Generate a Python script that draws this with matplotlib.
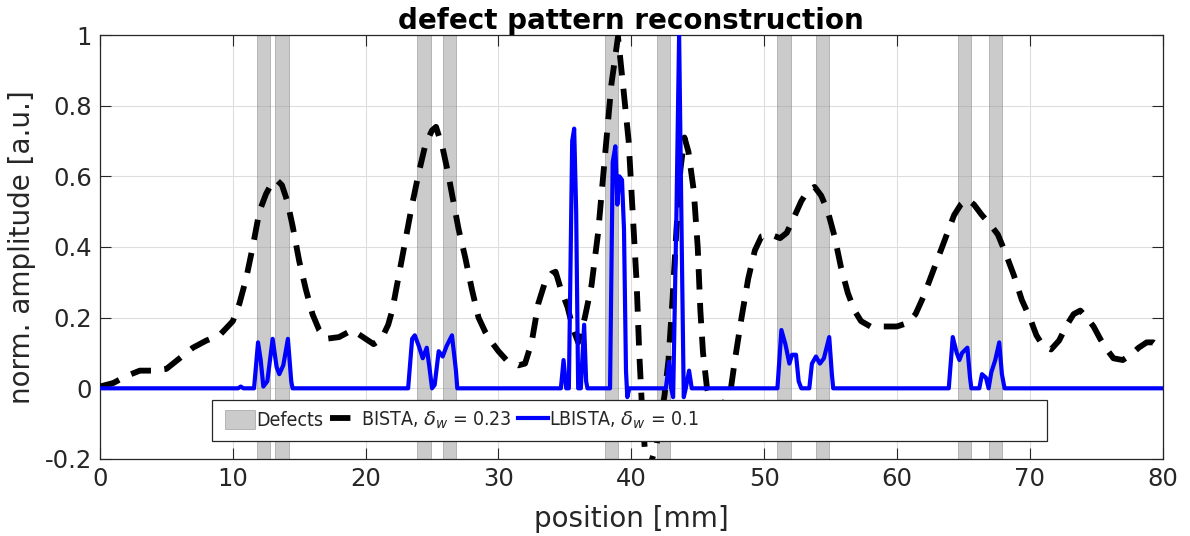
import matplotlib
matplotlib.use("Agg")
import matplotlib.pyplot as plt
from matplotlib.patches import Rectangle, Patch
from matplotlib.lines import Line2D

plt.rcParams['font.family'] = ['DejaVu Sans']
plt.rcParams['axes.unicode_minus'] = False
plt.rcParams['mathtext.fontset'] = 'dejavusans'

# defect positions (start, mm) - all 1 mm wide
defect_start = [11.8, 13.2, 23.9, 25.8, 38.0, 41.9, 51.0, 53.9, 64.6, 66.9]
defect_width = 1.0

# BISTA reconstruction, delta_w = 0.23
bista_x = [0, 1, 2, 3, 4, 5, 6, 7, 8, 9, 10, 10.5, 11, 11.5, 12, 12.5, 13, 13.3, 13.7, 14.1,
           14.5, 15, 15.5, 16, 16.5, 17, 18, 19, 20, 20.6, 21.2, 21.7, 22, 22.5, 23, 23.5, 24,
           24.5, 25, 25.3, 25.8, 26.2, 26.6, 27, 27.5, 28, 28.5, 29, 29.5, 30, 30.6, 31.5, 32,
           32.5, 33, 33.5, 34, 34.3, 34.7, 35.2, 35.6, 36.0, 36.5, 37, 37.5, 38, 38.5, 39, 39.4,
           39.8, 40.1, 40.4, 40.6, 40.8, 41.1, 41.4, 41.9, 42.5, 42.8, 43.1, 43.4, 43.7, 44.0,
           44.3, 44.7, 45.0, 45.2, 45.4, 45.7, 46.0, 46.5, 47.0, 47.5, 47.8, 48.3, 48.8, 49.3,
           49.8, 50.5, 51.2, 51.7, 52.2, 52.8, 53.3, 53.8, 54.3, 54.8, 55.3, 55.8, 56.3, 56.8,
           57.3, 58, 59, 60, 60.8, 61.4, 62, 62.6, 63.2, 63.8, 64.3, 64.8, 65.3, 65.8, 66.4, 67.0,
           67.6, 68.2, 68.8, 69.4, 70.0, 70.5, 71, 71.6, 72.2, 72.8, 73.3, 73.8, 74.3, 74.8, 75.3,
           75.8, 76.3, 77, 77.6, 78.2, 78.8, 79.3, 80]
bista_y = [0.005, 0.015, 0.035, 0.05, 0.05, 0.055, 0.085, 0.115, 0.135, 0.15, 0.19, 0.24, 0.31,
           0.40, 0.50, 0.55, 0.585, 0.59, 0.575, 0.53, 0.46, 0.36, 0.28, 0.21, 0.165, 0.14, 0.145,
           0.165, 0.14, 0.125, 0.14, 0.18, 0.22, 0.32, 0.42, 0.52, 0.61, 0.69, 0.73, 0.74, 0.68,
           0.61, 0.53, 0.45, 0.37, 0.28, 0.20, 0.16, 0.13, 0.105, 0.08, 0.065, 0.07, 0.13, 0.24,
           0.30, 0.325, 0.33, 0.28, 0.23, 0.17, 0.13, 0.20, 0.29, 0.44, 0.65, 0.86, 0.995, 0.85,
           0.70, 0.50, 0.30, 0.10, -0.05, -0.22, -0.22, -0.16, -0.02, 0.08, 0.25, 0.45, 0.62,
           0.71, 0.67, 0.56, 0.40, 0.22, 0.10, 0.0, -0.04, -0.06, -0.04, 0.0, 0.08, 0.20, 0.31,
           0.39, 0.43, 0.435, 0.425, 0.44, 0.48, 0.53, 0.56, 0.57, 0.545, 0.50, 0.43, 0.34, 0.27,
           0.22, 0.19, 0.175, 0.175, 0.175, 0.185, 0.21, 0.26, 0.32, 0.38, 0.44, 0.49, 0.52,
           0.535, 0.52, 0.49, 0.465, 0.435, 0.38, 0.32, 0.25, 0.20, 0.15, 0.12, 0.11, 0.135, 0.18,
           0.21, 0.22, 0.20, 0.175, 0.14, 0.11, 0.085, 0.08, 0.095, 0.115, 0.13, 0.13, 0.11]

# LBISTA reconstruction, delta_w = 0.1
lbista_x = [0, 10.4, 10.6, 10.8, 11.6, 11.9, 12.1, 12.3, 12.6, 13.0, 13.3, 13.5, 13.8, 14.15,
            14.4, 14.5, 23.2, 23.5, 23.7, 24.0, 24.3, 24.6, 24.8, 25.0, 25.2, 25.5, 25.8, 26.1,
            26.5, 26.8, 26.9, 34.7, 34.9, 35.1, 35.3, 35.55, 35.7, 35.85, 36.0, 36.2, 36.45, 36.6,
            36.7, 38.4, 38.6, 38.8, 38.95, 39.1, 39.3, 39.45, 39.6, 39.7, 39.85, 42.6, 42.85, 43.0,
            43.15, 43.4, 43.6, 43.8, 43.95, 44.1, 44.35, 44.55, 51.0, 51.3, 51.6, 51.9, 52.1, 52.4,
            52.6, 52.8, 53.4, 53.6, 53.9, 54.2, 54.5, 54.9, 55.1, 55.2, 63.9, 64.2, 64.5, 64.7,
            64.9, 65.3, 65.5, 65.6, 66.2, 66.4, 66.7, 66.9, 67.1, 67.4, 67.7, 67.9, 68.1, 80]
lbista_y = [0, 0, 0.005, 0, 0, 0.13, 0.08, 0.005, 0.02, 0.14, 0.06, 0.04, 0.065, 0.14,
            0.02, 0, 0, 0.14, 0.15, 0.12, 0.085, 0.115, 0.06, 0.0, 0.01, 0.105, 0.09, 0.12,
            0.15, 0.05, 0, 0, 0.08, 0, 0, 0.70, 0.735, 0.50, 0.0, 0.0, 0.18, 0.02,
            0, 0, 0.64, 0.685, 0.52, 0.60, 0.59, 0.45, 0.05, -0.025, 0, 0, 0.075, 0.0,
            -0.025, 0.50, 1.0, 0.40, -0.025, 0.0, 0.05, 0, 0, 0.165, 0.125, 0.07, 0.095, 0.095,
            0.02, 0, 0, 0.07, 0.09, 0.07, 0.085, 0.145, 0.04, 0, 0, 0.145, 0.10, 0.08,
            0.10, 0.115, 0.03, 0, 0, 0.04, 0.03, 0.0, 0.045, 0.08, 0.13, 0.04, 0, 0]

xticks = [0, 10, 20, 30, 40, 50, 60, 70, 80]
yticks = [-0.2, 0, 0.2, 0.4, 0.6, 0.8, 1]
ytick_labels = ['-0.2', '0', '0.2', '0.4', '0.6', '0.8', '1']

axcol = '#262626'

fig = plt.figure(figsize=(11.9, 5.36), dpi=100)
ax = fig.add_axes([0.084, 0.1437, 0.893, 0.791])

for s in defect_start:
    ax.axvspan(s, s + defect_width, facecolor='0.6', alpha=0.5, edgecolor='0.45',
               linewidth=0.6, zorder=1)

ax.plot(bista_x, bista_y, color='black', linewidth=4.2, dashes=(3.5, 2.3),
        dash_capstyle='butt', zorder=3)
ax.plot(lbista_x, lbista_y, color=(0, 0, 1), linewidth=3.0, zorder=4)

ax.set_xlim(0, 80)
ax.set_ylim(-0.2, 1)
ax.set_xticks(xticks)
ax.set_yticks(yticks)
ax.set_yticklabels(ytick_labels)
ax.grid(True, color='#dedede', linewidth=0.8)
ax.set_axisbelow(True)
ax.tick_params(direction='in', length=8, width=0.8, colors=axcol, labelsize=17.5,
               top=True, right=True, pad=6)
for sp in ax.spines.values():
    sp.set_color(axcol)
    sp.set_linewidth(0.9)

ax.set_xlabel('position [mm]', fontsize=20, color=axcol, labelpad=10)
ax.set_ylabel('norm. amplitude [a.u.]', fontsize=20, color=axcol, labelpad=6)
ax.set_title('defect pattern reconstruction', fontsize=20, fontweight='bold', pad=4)

# legend box (wider than its content, like the original)
ax.add_patch(Rectangle((0.105, 0.042), 0.786, 0.097, transform=ax.transAxes,
                       facecolor='white', edgecolor=axcol, linewidth=0.9, zorder=5))
handles = [Patch(facecolor='0.6', alpha=0.5, edgecolor='0.45', linewidth=0.6),
           Line2D([], [], color='black', linewidth=4.2, dashes=(3.5, 2.3)),
           Line2D([], [], color=(0, 0, 1), linewidth=3.0)]
labels = ['Defects', r'BISTA, $\delta_w$ = 0.23', r'LBISTA, $\delta_w$ = 0.1']
leg = ax.legend(handles, labels, loc='center left', bbox_to_anchor=(0.118, 0.0905),
                ncol=3, frameon=False, handlelength=1.5, handleheight=1.1,
                handletextpad=0.1, columnspacing=0.35, borderpad=0, borderaxespad=0,
                prop={'family': 'DejaVu Sans', 'stretch': 'condensed', 'size': 14})
leg.set_zorder(6)
for t in leg.get_texts():
    t.set_color(axcol)

fig.savefig('out.png', dpi=100)
